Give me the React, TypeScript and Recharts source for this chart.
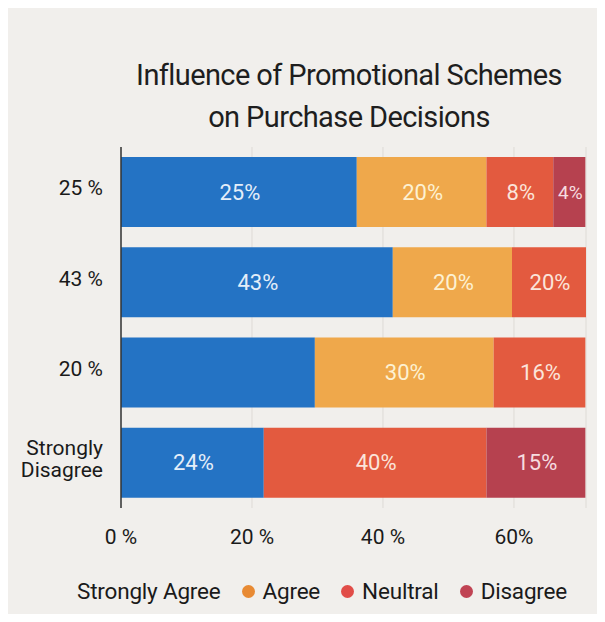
import React from "react";
import {
  BarChart,
  Bar,
  XAxis,
  YAxis,
  CartesianGrid,
  LabelList,
} from "recharts";

const categories = ["25 %", "43 %", "20 %", "Strongly Disagree"];

// segment lengths as drawn (percent of axis)
const stronglyAgree = [36.0, 41.5, 29.6, 21.8];
const agree = [19.8, 18.2, 27.3, 0];
const neutral = [10.2, 11.3, 14.0, 34.0];
const disagree = [4.9, 0, 0, 15.1];

// text printed inside each segment
const stronglyAgreeText = ["25%", "43%", "", "24%"];
const agreeText = ["20%", "20%", "30%", ""];
const neutralText = ["8%", "20%", "16%", "40%"];
const disagreeText = ["4%", "", "", "15%"];

const xTicks = [0, 20, 40, 60];
const xTickText = ["0 %", "20 %", "40 %", "60%"];

const COLORS = {
  stronglyAgree: "#2473c4",
  agree: "#efa84b",
  neutral: "#e35a3f",
  disagree: "#b6414f",
};

const FONT = "Roboto, 'Liberation Sans', Arial, sans-serif";

const data = categories.map((name, i) => ({
  name,
  sa: stronglyAgree[i],
  ag: agree[i],
  ne: neutral[i],
  di: disagree[i],
  saText: stronglyAgreeText[i],
  agText: agreeText[i],
  neText: neutralText[i],
  diText: disagreeText[i],
}));

const CategoryTick = (props: any) => {
  const { x, y, payload } = props;
  const words: string[] =
    payload.value === "Strongly Disagree" ? ["Strongly", "Disagree"] : [payload.value];
  const start = -((words.length - 1) * 22) / 2 - 4;
  return (
    <text
      x={x}
      y={y}
      textAnchor="end"
      fill="#1a1a1a"
      fontSize={21}
      fontFamily={FONT}
    >
      {words.map((w, i) => (
        <tspan key={i} x={x} y={y + start + i * 22} dy="0.35em">
          {w}
        </tspan>
      ))}
    </text>
  );
};

const SegmentLabel = (color: string) => (props: any) => {
  const { x, y, width, height, value } = props;
  if (!value) return null;
  return (
    <text
      x={x + width / 2 + 1}
      y={y + height / 2}
      dy="0.35em"
      textAnchor="middle"
      fill={color}
      fontSize={width < 40 ? 19 : 22}
      fontFamily={FONT}
    >
      {value}
    </text>
  );
};

const legendItems = [
  { label: "Strongly Agree", dot: null as string | null },
  { label: "Agree", dot: "#e88a33" },
  { label: "Neultral", dot: "#e14d48" },
  { label: "Disagree", dot: "#c04353" },
];

const App: React.FC = () => {
  return (
    <div
      style={{
        position: "relative",
        width: 590,
        height: 606,
        backgroundColor: "#f1efec",
        fontFamily: FONT,
      }}
    >
      <BarChart
        width={590}
        height={606}
        data={data}
        layout="vertical"
        margin={{ top: 139, right: 12, bottom: 75, left: 0 }}
        style={{ position: "absolute", left: 0, top: 0 }}
      >
        <CartesianGrid horizontal={false} stroke="#dedbd6" />
        <XAxis
          type="number"
          domain={[0, 71]}
          ticks={xTicks}
          tickFormatter={(v: number) => xTickText[xTicks.indexOf(v)]}
          axisLine={false}
          tickLine={false}
          tickSize={0}
          tickMargin={21}
          height={31}
          tick={{ fill: "#1a1a1a", fontSize: 21, fontFamily: FONT }}
        />
        <YAxis
          type="category"
          dataKey="name"
          width={113}
          axisLine={{ stroke: "#333", strokeWidth: 1.5 }}
          tickLine={false}
          tickSize={0}
          tickMargin={18}
          tick={<CategoryTick />}
        />
        <Bar dataKey="sa" stackId="a" fill={COLORS.stronglyAgree} barSize={70} isAnimationActive={false}>
          <LabelList dataKey="saText" content={SegmentLabel("#e4eef9")} />
        </Bar>
        <Bar dataKey="ag" stackId="a" fill={COLORS.agree} barSize={70} isAnimationActive={false}>
          <LabelList dataKey="agText" content={SegmentLabel("#fdf1d2")} />
        </Bar>
        <Bar dataKey="ne" stackId="a" fill={COLORS.neutral} barSize={70} isAnimationActive={false}>
          <LabelList dataKey="neText" content={SegmentLabel("#fbe4da")} />
        </Bar>
        <Bar dataKey="di" stackId="a" fill={COLORS.disagree} barSize={70} isAnimationActive={false}>
          <LabelList dataKey="diText" content={SegmentLabel("#f6dde0")} />
        </Bar>
      </BarChart>

      <div
        style={{
          position: "absolute",
          left: 0,
          width: 590,
          top: 46,
          textAlign: "center",
          fontSize: 29,
          lineHeight: "42px",
          letterSpacing: -0.6,
          color: "#1e1e1e",
          paddingLeft: 92,
          boxSizing: "border-box",
        }}
      >
        Influence of Promotional Schemes
        <br />
        on Purchase Decisions
      </div>

      <div
        style={{
          position: "absolute",
          left: 69,
          top: 570,
          display: "flex",
          alignItems: "center",
          fontSize: 22.5,
          letterSpacing: -0.2,
          color: "#1a1a1a",
          whiteSpace: "nowrap",
        }}
      >
        {legendItems.map((item) => (
          <div
            key={item.label}
            style={{ display: "flex", alignItems: "center", marginRight: 21 }}
          >
            {item.dot && (
              <span
                style={{
                  display: "inline-block",
                  width: 13,
                  height: 13,
                  borderRadius: "50%",
                  backgroundColor: item.dot,
                  marginRight: 8,
                }}
              />
            )}
            <span>{item.label}</span>
          </div>
        ))}
      </div>
    </div>
  );
};

export default App;
